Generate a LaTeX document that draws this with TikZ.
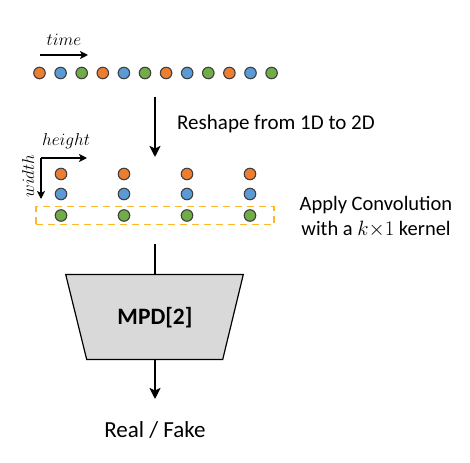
\documentclass[tikz,border=0pt]{standalone}
\usepackage{fontspec}
\setmainfont{Carlito}
\usetikzlibrary{arrows.meta}
\definecolor{dorange}{RGB}{237,125,49}
\definecolor{dblue}{RGB}{91,155,213}
\definecolor{dgreen}{RGB}{112,173,71}
\definecolor{dline}{RGB}{64,64,64}
\definecolor{boxorange}{RGB}{255,182,40}
\definecolor{trapfill}{RGB}{217,217,217}
\tikzset{
  dot/.style={circle,draw=dline,line width=1.1pt,minimum size=11.5pt,inner sep=0pt},
  arr/.style={line width=2.4pt,-{Stealth[length=11pt,width=11pt,inset=2.5pt]}},
  axarr/.style={line width=2.2pt,-{Stealth[length=8pt,width=8pt,inset=2pt]}},
  lbl/.style={font=\fontsize{21}{25}\selectfont,inner sep=0pt},
}
\begin{document}
\begin{tikzpicture}[x=1pt,y=-1pt]
\useasboundingbox (0,0) rectangle (470,462);
% top sequence
\foreach \i/\c in {0/dorange,1/dblue,2/dgreen,3/dorange,4/dblue,5/dgreen,6/dorange,7/dblue,8/dgreen,9/dorange,10/dblue,11/dgreen}{
  \node[dot,fill=\c] (s\i) at ({39.5+21.1*\i},73) {};
}
\node[inner sep=0pt,font=\fontsize{17.5}{20}\selectfont] (timel) at (64,40) {$time$};
\coordinate (t0) at (40,55);
\coordinate (t1) at (88,55);
\draw[axarr] (t0) -- (t1);
% reshape arrow
\coordinate (r0) at (155,97);
\coordinate (r1) at (155,157);
\draw[arr] (r0) -- (r1);
\node[lbl,anchor=west] (reshape) at (177,124) {Reshape from 1D to 2D};
% 2D grid
\foreach \j/\x in {0/61,1/124,2/187,3/250}{
  \node[dot,fill=dorange] (a\j) at (\x,174) {};
  \node[dot,fill=dblue] (b\j) at (\x,194) {};
  \node[dot,fill=dgreen] (c\j) at (\x,215.5) {};
}
\coordinate (corner) at (41,158);
\coordinate (hend) at (87,158);
\coordinate (wend) at (41,199);
\draw[axarr] (corner) -- (hend);
\draw[axarr] (corner) -- (wend);
\node[inner sep=0pt,font=\fontsize{17.5}{20}\selectfont] (heightl) at (66,141) {$height$};
\node[inner sep=0pt,font=\fontsize{17.5}{20}\selectfont,rotate=90] (widthl) at (28,176) {$width$};
\node[draw=boxorange,dashed,dash pattern=on 7pt off 5pt,line width=1.8pt,minimum width=238pt,minimum height=18pt,inner sep=0pt] (conv) at (155,215.5) {};
\node[font=\fontsize{20.5}{24}\selectfont,inner sep=0pt,align=center] (applyl) at (376,216.5) {Apply Convolution\\[1pt]with a $k{\times}1$ kernel};
% MPD trapezoid
\coordinate (m0) at (155,244);
\coordinate (tl) at (65.7,274.5);
\coordinate (tr) at (243.3,274.5);
\coordinate (br) at (222.7,359.5);
\coordinate (bl) at (86.7,359.5);
\coordinate (mtop) at (155,274.5);
\draw[line width=2.4pt] (m0) -- (mtop);
\draw[fill=trapfill,draw=black,line width=1.2pt] (tl) -- (tr) -- (br) -- (bl) -- cycle;
\node[inner sep=0pt,font=\fontsize{23.5}{28}\selectfont\bfseries] (mpd) at (155,318) {MPD[2]};
\coordinate (mbot) at (155,359.5);
\coordinate (o1) at (155,399);
\draw[arr] (mbot) -- (o1);
\node[inner sep=0pt,font=\fontsize{23}{27}\selectfont] (out) at (155,430) {Real / Fake};
\end{tikzpicture}
\end{document}
